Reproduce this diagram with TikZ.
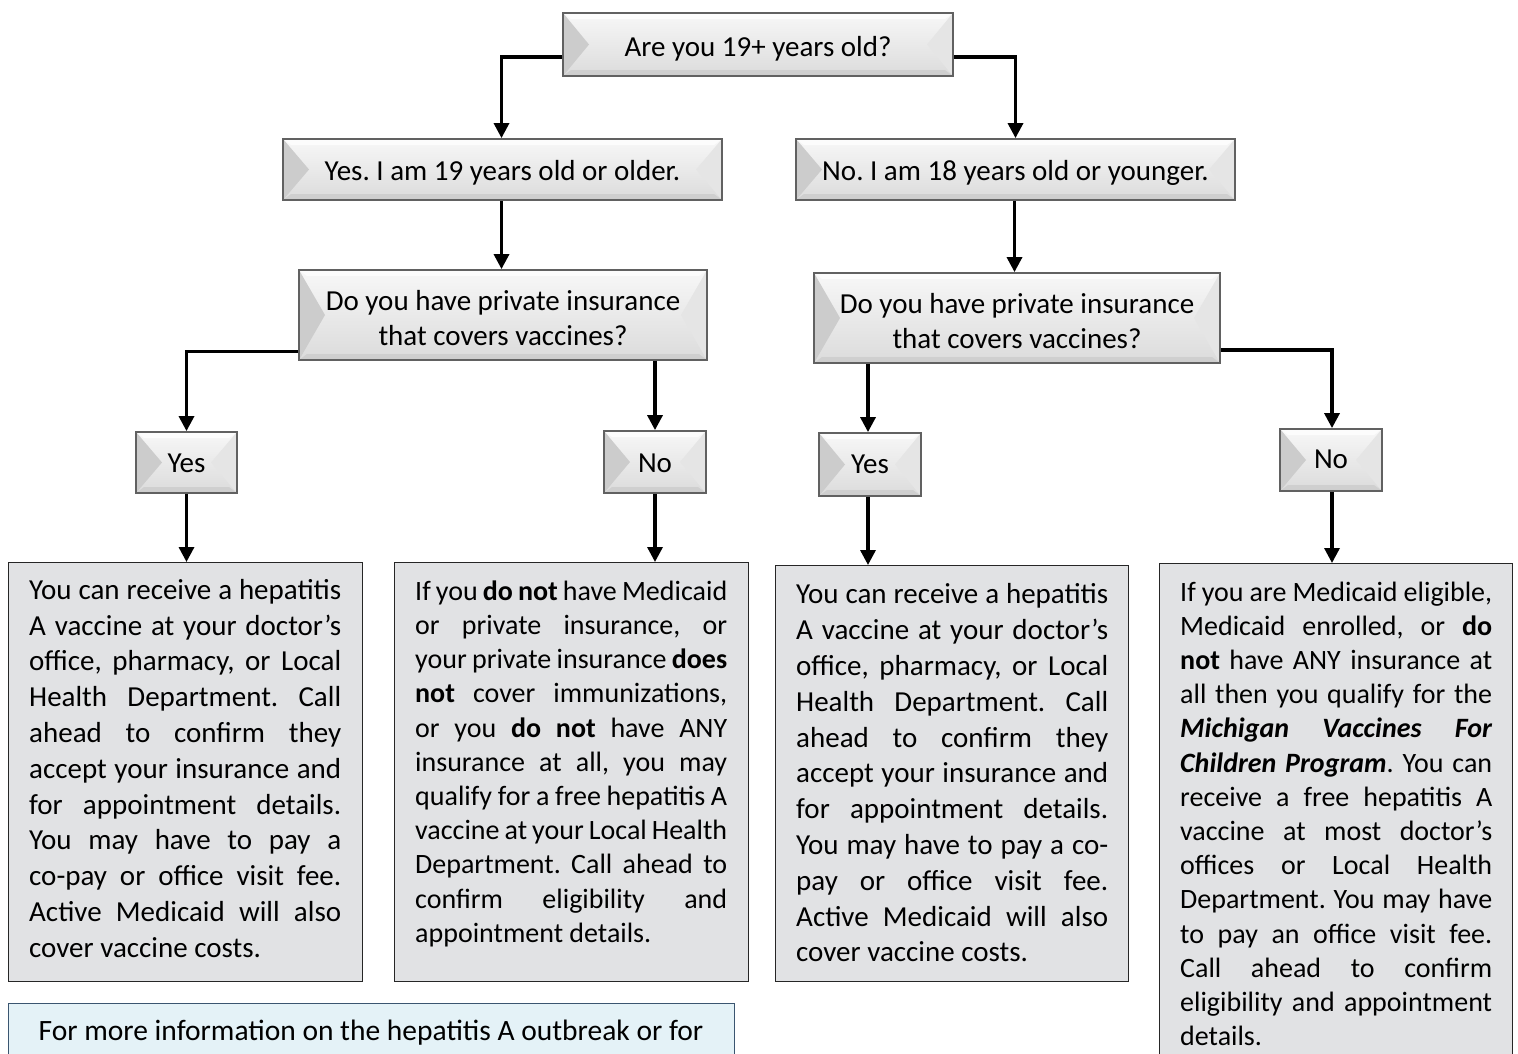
\documentclass[tikz,border=0pt]{standalone}
\usepackage{fontspec}
\setmainfont{Carlito}
\usetikzlibrary{arrows.meta,calc}
\definecolor{boxfill}{HTML}{E1E2E4}
\definecolor{bluefill}{HTML}{E4F2F7}
\definecolor{blueline}{HTML}{3A5570}
\newcommand{\jl}[1]{\makebox[312pt][s]{#1}}
\newcommand{\dn}[2]{\raisebox{-#1pt}[\height][\depth]{#2}}
\frenchspacing
\begin{document}
\frenchspacing
\begin{tikzpicture}[x=1pt,y=-1pt,
  bev/.style={draw=black!62, line width=1.8pt, top color=gray!6, bottom color=gray!28,
    font=\fontsize{29}{35}\selectfont\frenchspacing, align=center, inner sep=0pt,
    path picture={
      \fill[gray!40] (path picture bounding box.north west) -- ([xshift=26pt]path picture bounding box.west) -- (path picture bounding box.south west) -- cycle;
      \fill[gray!20] (path picture bounding box.north east) -- ([xshift=-26pt]path picture bounding box.east) -- (path picture bounding box.south east) -- cycle;
      \fill[white,opacity=.7] (path picture bounding box.north west) -- (path picture bounding box.north east) -- ([xshift=-8pt,yshift=-6pt]path picture bounding box.north east) -- ([xshift=8pt,yshift=-6pt]path picture bounding box.north west) -- cycle;
      \fill[gray!45,opacity=.6] (path picture bounding box.south west) -- (path picture bounding box.south east) -- ([xshift=-8pt,yshift=6pt]path picture bounding box.south east) -- ([xshift=8pt,yshift=6pt]path picture bounding box.south west) -- cycle;
    }},
  txtbox/.style={draw=black!85, line width=1.3pt, fill=boxfill, inner sep=0pt, anchor=north west},
  bodyA/.style={font=\fontsize{29}{35.8}\selectfont\frenchspacing, align=left, inner sep=0pt, anchor=north west},
  bodyB/.style={font=\fontsize{28}{34.2}\selectfont\frenchspacing, align=left, inner sep=0pt, anchor=north west},
  conn/.style={line width=3.3pt, -{Triangle[length=15pt,width=15pt]}}]

\useasboundingbox (0,0) rectangle (1518,1053);
\clip (0,0) rectangle (1518,1053);

% decision boxes
\node[bev, minimum width=390pt, minimum height=63pt] (top) at (758,44.5) {\dn{4}{Are you 19+ years old?}};
\node[bev, minimum width=439pt, minimum height=61pt] (yes19) at (502.5,169.5) {\dn{3}{Yes. I am 19 years old or older.}};
\node[bev, minimum width=439pt, minimum height=61pt] (no18) at (1015.5,169.5) {\dn{3}{No. I am 18 years old or younger.}};
\node[bev, minimum width=408pt, minimum height=90pt] (q1) at (503,315) {\dn{5.5}{\begin{tabular}{@{}c@{}}Do you have private insurance\\that covers vaccines?\end{tabular}}};
\node[bev, minimum width=406pt, minimum height=90pt] (q2) at (1017,318) {\dn{5.5}{\begin{tabular}{@{}c@{}}Do you have private insurance\\that covers vaccines?\end{tabular}}};
\node[bev, minimum width=101pt, minimum height=61pt] (yes1) at (186.5,462.5) {\dn{1}{Yes}};
\node[bev, minimum width=102pt, minimum height=62pt] (no1) at (655,462) {\dn{1}{No}};
\node[bev, minimum width=102pt, minimum height=63pt] (yes2) at (870,464.5) {Yes};
\node[bev, minimum width=102pt, minimum height=62pt] (no2) at (1331,460) {\dn{-0.5}{No}};

% answer boxes
\node[txtbox, minimum width=354pt, minimum height=419pt] (b1) at (8,562) {};
\node[txtbox, minimum width=354pt, minimum height=419pt] (b2) at (394,562) {};
\node[txtbox, minimum width=353pt, minimum height=416pt] (b3) at (775,565) {};
\node[txtbox, minimum width=353pt, minimum height=520pt] (b4) at (1159,563) {};

\node[bodyA] (t1) at ([xshift=21pt,yshift=-17pt]b1.north west) {%
\jl{You can receive a hepatitis}\\
\jl{A vaccine at your doctor’s}\\
\jl{office, pharmacy, or Local}\\
\jl{Health Department. Call}\\
\jl{ahead to confirm they}\\
\jl{accept your insurance and}\\
\jl{for appointment details.}\\
\jl{You may have to pay a}\\
\jl{co-pay or office visit fee.}\\
\jl{Active Medicaid will also}\\
cover vaccine costs.};

\node[bodyB] (t2) at ([xshift=21pt,yshift=-18.5pt]b2.north west) {%
\jl{If you \textbf{do not} have Medicaid}\\
\jl{or private insurance, or}\\
\jl{your private insurance \textbf{does}}\\
\jl{\textbf{not} cover immunizations,}\\
\jl{or you \textbf{do not} have ANY}\\
\jl{insurance at all, you may}\\
\jl{qualify for a free hepatitis A}\\
\jl{vaccine at your Local Health}\\
\jl{Department. Call ahead to}\\
\jl{confirm eligibility and}\\
appointment details.};

\node[bodyA] (t3) at ([xshift=21pt,yshift=-18.5pt]b3.north west) {%
\jl{You can receive a hepatitis}\\
\jl{A vaccine at your doctor’s}\\
\jl{office, pharmacy, or Local}\\
\jl{Health Department. Call}\\
\jl{ahead to confirm they}\\
\jl{accept your insurance and}\\
\jl{for appointment details.}\\
\jl{You may have to pay a co-}\\
\jl{pay or office visit fee.}\\
\jl{Active Medicaid will also}\\
cover vaccine costs.};

\node[bodyB] (t4) at ([xshift=21pt,yshift=-18.5pt]b4.north west) {%
\jl{If you are Medicaid eligible,}\\
\jl{Medicaid enrolled, or \textbf{do}}\\
\jl{\textbf{not} have ANY insurance at}\\
\jl{all then you qualify for the}\\
\jl{\textbf{\textit{Michigan Vaccines For}}}\\
\jl{\textbf{\textit{Children Program}}. You can}\\
\jl{receive a free hepatitis A}\\
\jl{vaccine at most doctor’s}\\
\jl{offices or Local Health}\\
\jl{Department. You may have}\\
\jl{to pay an office visit fee.}\\
\jl{Call ahead to confirm}\\
\jl{eligibility and appointment}\\
details.};

% info box
\node[draw=blueline, line width=1.3pt, fill=bluefill, minimum width=726pt, minimum height=80pt, anchor=north west, inner sep=0pt] (info) at (8,1003) {};
\node[font=\fontsize{29.5}{35}\selectfont, anchor=base, inner sep=0pt] (infot) at (371,1040.5) {For more information on the hepatitis A outbreak or for};

% connectors
\draw[conn] ([yshift=-12.5pt]top.west) -| ([xshift=-1pt]yes19.north);
\draw[conn] ([yshift=-12.5pt]top.east) -| (no18.north);
\draw[conn] ([xshift=-1pt]yes19.south) -- ([xshift=-1pt]yes19.south |- q1.north);
\draw[conn] ([xshift=-1pt]no18.south) -- ([xshift=-1pt]no18.south |- q2.north);
\draw[conn] ([yshift=-36.5pt]q1.west) -| (yes1.north);
\draw[conn] (no1.north |- q1.south) -- (no1.north);
\draw[conn] ([xshift=-2pt]yes2.north |- q2.south) -- ([xshift=-2pt]yes2.north);
\draw[conn] ([yshift=-32pt]q2.east) -| ([xshift=1pt]no2.north);
\draw[conn] (yes1.south) -- (yes1.south |- b1.north);
\draw[conn] (no1.south) -- (no1.south |- b2.north);
\draw[conn] ([xshift=-2pt]yes2.south) -- ([xshift=-2pt]yes2.south |- b3.north);
\draw[conn] ([xshift=1pt]no2.south) -- ([xshift=1pt]no2.south |- b4.north);
\end{tikzpicture}
\end{document}
